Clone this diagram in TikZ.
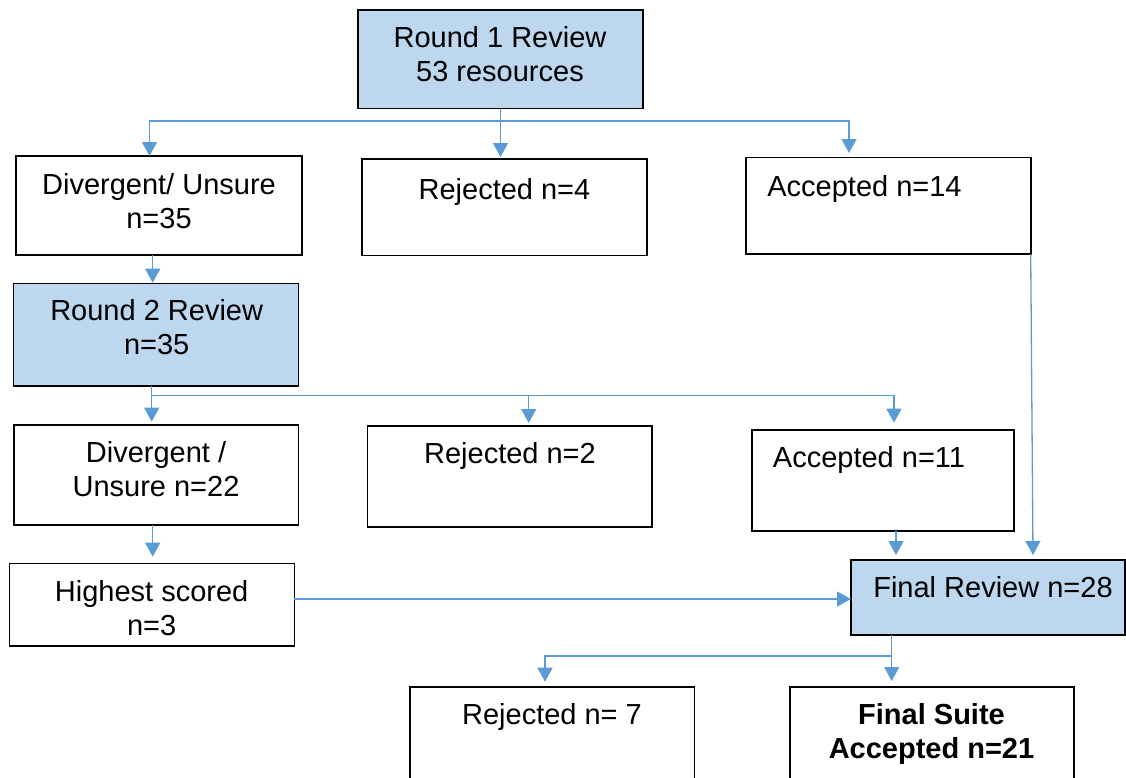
\documentclass[tikz,border=0pt]{standalone}
\usepackage{fontspec}
\setmainfont{Liberation Sans}
\usetikzlibrary{arrows.meta}
\definecolor{linkblue}{HTML}{5B9BD5}
\definecolor{stagefill}{HTML}{BDD7EE}
\newcommand{\twolines}[2]{{\renewcommand{\arraystretch}{1}\begin{tabular}[t]{@{}c@{}}#1\\#2\end{tabular}}}
\tikzset{
  box/.style={draw=black, line width=1.6pt, fill=white, inner sep=0pt, outer sep=0pt},
  stage/.style={box, fill=stagefill},
  finalbox/.style={box, line width=2.6pt},
  txt/.style={inner sep=0pt, anchor=base, font=\fontsize{29}{34}\selectfont},
  conn/.style={draw=linkblue, line width=1.3pt},
  arr/.style={conn, -{Triangle[length=14pt,width=15pt]}}
}
\begin{document}
\begin{tikzpicture}[x=1pt, y=-1pt]
\useasboundingbox (0,0) rectangle (1126,777);

% boxes
\node[stage, minimum width=285pt, minimum height=98.5pt] (r1) at (500.5,59.25) {};
\node[box, minimum width=286pt, minimum height=99pt] (div35) at (159,205.5) {};
\node[box, minimum width=285pt, minimum height=96.5pt] (rej4) at (504.5,207.25) {};
\node[box, minimum width=285pt, minimum height=96.4pt] (acc14) at (888.2,205.5) {};
\node[stage, minimum width=285pt, minimum height=102.4pt] (r2) at (155.8,334.5) {};
\node[box, minimum width=284.3pt, minimum height=100pt] (div22) at (156.15,475) {};
\node[box, minimum width=284.4pt, minimum height=100.7pt] (rej2) at (509.5,476.35) {};
\node[box, minimum width=262pt, minimum height=101pt] (acc11) at (883,480.5) {};
\node[box, minimum width=285pt, minimum height=82.7pt] (hi) at (151.8,604.65) {};
\node[stage, minimum width=274pt, minimum height=75pt] (fr) at (988,597.5) {};
\node[box, minimum width=284.4pt, minimum height=113pt] (rej7) at (552.2,743.5) {};
\node[finalbox, minimum width=284.2pt, minimum height=113pt] (fs) at (931.9,743.5) {};

% labels
\node[txt] (t-r1) at (500,47) {\twolines{Round 1 Review}{53 resources}};
\node[txt] (t-div35) at (159,194) {\twolines{Divergent/ Unsure}{n=35}};
\node[txt] (t-rej4) at (504.5,199) {Rejected n=4};
\node[txt] (t-acc14) at (864.5,196) {Accepted n=14};
\node[txt] (t-r2) at (156.7,320) {\twolines{Round 2 Review}{n=35}};
\node[txt] (t-div22) at (156,462.7) {\twolines{Divergent /}{Unsure n=22}};
\node[txt] (t-rej2) at (510,463.3) {Rejected n=2};
\node[txt] (t-acc11) at (869,467.7) {Accepted n=11};
\node[txt] (t-hi) at (151.7,601) {\twolines{Highest scored}{n=3}};
\node[txt] (t-fr) at (993,597.3) {Final Review n=28};
\node[txt] (t-rej7) at (552,724.3) {Rejected n= 7};
\node[txt] (t-fs) at (931.5,724.3) {\twolines{\bfseries Final Suite}{\bfseries Accepted n=21}};

% junctions and arrow ends
\coordinate (j1) at (500.5,121);
\coordinate (e-div35) at (149.5,156);
\coordinate (e-rej4) at (500.5,157);
\coordinate (e-acc14) at (849,153);
\coordinate (e-r2) at (152.7,282.7);
\coordinate (j2) at (151.7,395.5);
\coordinate (e-div22) at (151.7,421.7);
\coordinate (e-rej2) at (528.7,423);
\coordinate (e-acc11) at (894,422.7);
\coordinate (e-hi) at (152.7,556.7);
\coordinate (e-fr1) at (851,599);
\coordinate (e-fr2) at (896,555);
\coordinate (e-fr3) at (1033,555);
\coordinate (j3) at (891.7,656);
\coordinate (e-rej7) at (545,681.7);
\coordinate (e-fs) at (891.7,681);

% round 1 split
\draw[conn] (r1.south) -- (j1);
\draw[arr] (j1) -| (e-div35);
\draw[arr] (j1) -- (e-rej4);
\draw[arr] (j1) -| (e-acc14);

% round 2
\draw[arr] (div35.south -| e-r2) -- (e-r2);
\draw[conn] (r2.south -| j2) -- (j2);
\draw[arr] (j2) -- (e-div22);
\draw[arr] (j2) -| (e-rej2);
\draw[arr] (j2) -| (e-acc11);

% into final review
\draw[arr] (div22.south -| e-hi) -- (e-hi);
\draw[arr] (hi.east |- e-fr1) -- (e-fr1);
\draw[arr] (acc11.south -| e-fr2) -- (e-fr2);
\draw[arr] (acc14.south east) -- (e-fr3);

% final split
\draw[conn] (fr.south -| j3) -- (j3);
\draw[arr] (j3) -| (e-rej7);
\draw[arr] (j3) -- (e-fs);
\end{tikzpicture}
\end{document}
